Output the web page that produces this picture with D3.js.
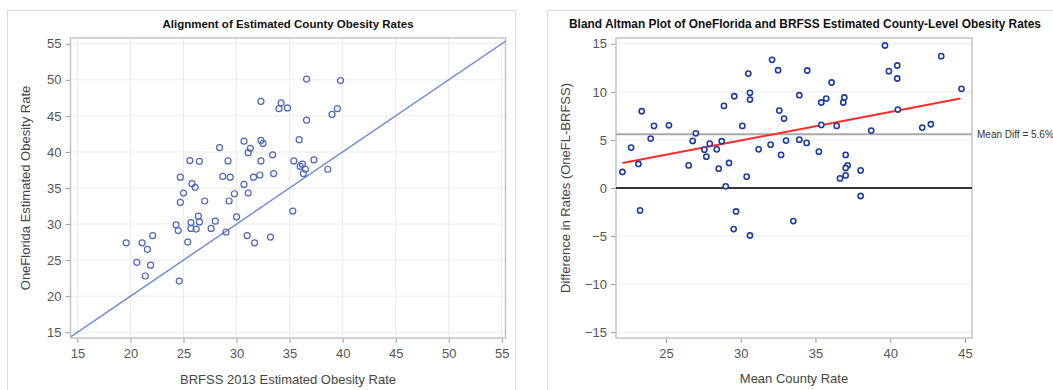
<!DOCTYPE html>
<html>
<head>
<meta charset="utf-8">
<script src="https://cdn.jsdelivr.net/npm/d3@7"></script>
<style>
  body { margin: 0; background: #fff; }
  svg { font-family: "Liberation Sans", Arial, sans-serif; }
</style>
</head>
<body>
<svg id="chart" width="1053" height="390"></svg>
<script>
// left panel: BRFSS 2013 vs OneFlorida estimated rates (one point per county)
const brfss = [25.0, 24.7, 27.0, 29.3, 29.8, 31.1, 35.3, 26.4, 24.3, 24.5, 25.7, 26.5, 25.7, 26.2, 28.0, 27.6,
  30.0, 29.0, 31.0, 31.7, 33.2, 25.4, 19.6, 21.1, 22.1, 21.6, 20.6, 21.9, 21.4, 24.6,
  36.6, 32.3, 34.2, 34.0, 34.8, 36.6, 35.9, 30.7, 32.3, 32.5, 28.4, 31.3, 31.1, 33.4, 25.6, 26.5,
  29.2, 32.3, 35.4, 36.2, 37.3, 36.0, 36.5, 36.3, 24.7, 28.7, 29.4, 31.6, 32.2, 33.5, 25.8, 26.1,
  30.7, 39.8, 39.5, 39.0, 38.6];
const oneFlorida = [34.3, 33.0, 33.2, 33.2, 34.2, 34.3, 31.8, 31.1, 29.9, 29.1, 30.2, 30.3, 29.4, 29.3, 30.4, 29.4,
  31.0, 28.9, 28.4, 27.4, 28.2, 27.5, 27.4, 27.4, 28.4, 26.5, 24.7, 24.3, 22.8, 22.1,
  50.1, 47.0, 46.8, 46.0, 46.1, 44.4, 41.7, 41.5, 41.6, 41.2, 40.6, 40.5, 39.9, 39.6, 38.8, 38.7,
  38.75, 38.75, 38.75, 38.3, 38.9, 38.0, 37.6, 37.0, 36.5, 36.6, 36.5, 36.5, 36.8, 37.0, 35.6, 35.1,
  35.5, 49.9, 46.0, 45.2, 37.6];

// right panel: mean county rate vs difference (OneFL - BRFSS)
const meanRate = [22.09, 22.67, 23.16, 23.38, 23.98, 24.2, 25.2, 26.52, 26.79, 27.0, 27.57, 27.7, 27.93, 28.4,
  28.53, 28.73, 28.88, 29.0, 29.22, 29.57, 30.11, 30.4, 30.51, 30.62, 30.62, 31.2, 32.0, 32.1, 32.5, 32.58,
  32.7, 32.9, 33.03, 33.92, 33.92,
  23.27, 29.69, 29.53, 30.62, 33.52,
  34.45, 39.65, 43.41, 39.91, 40.47, 40.47, 36.08, 35.39, 35.72, 36.93, 36.86, 44.77, 40.51, 35.39, 36.42,
  38.73, 42.14, 42.72, 34.41, 35.23, 37.02, 37.15, 37.02, 38.02, 36.64, 37.02, 38.02];
const diffRate = [1.67, 4.2, 2.5, 7.98, 5.14, 6.46, 6.52, 2.35, 4.9, 5.69, 3.99, 3.26, 4.61, 4.02,
  2.01, 4.86, 8.54, 0.17, 2.6, 9.54, 6.46, 1.18, 11.9, 9.9, 9.2, 4.02, 4.51, 13.33, 12.25, 8.05,
  3.44, 7.22, 4.93, 9.65, 5.03,
  -2.33, -2.44, -4.27, -4.94, -3.44,
  12.22, 14.82, 13.71, 12.15, 12.74, 11.39, 10.97, 8.89, 9.3, 9.41, 8.89, 10.31, 8.16, 6.56, 6.46,
  5.97, 6.28, 6.63, 4.69, 3.78, 3.44, 2.35, 2.08, 1.83, 1.0, 1.31, -0.83];

const regX = [22.1, 44.7];
const regY = [2.6, 9.3];
const meanDiff = 5.6;

const leftTicks = [15, 20, 25, 30, 35, 40, 45, 50, 55];
const rightXTicks = [25, 30, 35, 40, 45];
const rightYTicks = [-15, -10, -5, 0, 5, 10, 15];

const svg = d3.select('#chart');

// panel frames
svg.append('rect').attr('x', 7.5).attr('y', 10.5).attr('width', 508).attr('height', 400)
  .attr('fill', 'none').attr('stroke', '#dcdcdc');
svg.append('rect').attr('x', 547.5).attr('y', 10.5).attr('width', 520).attr('height', 400)
  .attr('fill', 'none').attr('stroke', '#dcdcdc');

const drawAxes = (g, x, y, xTicks, yTicks, vGrid) => {
  const [x0, x1] = x.range();
  const [y0, y1] = y.range();
  if (vGrid) {
    g.append('g').selectAll('line').data(xTicks).join('line')
      .attr('x1', d => x(d)).attr('x2', d => x(d)).attr('y1', y1).attr('y2', y0)
      .attr('stroke', '#ebebeb');
  }
  g.append('g').selectAll('line').data(yTicks).join('line')
    .attr('x1', x0).attr('x2', x1).attr('y1', d => y(d)).attr('y2', d => y(d))
    .attr('stroke', '#ebebeb');

  const xa = g.append('g').attr('transform', `translate(0,${y0})`)
    .call(d3.axisBottom(x).tickValues(xTicks).tickSize(5).tickPadding(6));
  const ya = g.append('g').attr('transform', `translate(${x0},0)`)
    .call(d3.axisLeft(y).tickValues(yTicks).tickSize(5).tickPadding(4));
  [xa, ya].forEach(a => {
    a.select('.domain').remove();
    a.selectAll('line').attr('stroke', '#999');
    a.selectAll('text').attr('fill', '#555').attr('font-size', 13)
      .attr('font-family', '"Liberation Sans", Arial, sans-serif');
  });
  g.append('rect').attr('x', x0).attr('y', y1).attr('width', x1 - x0).attr('height', y0 - y1)
    .attr('fill', 'none').attr('stroke', '#c4c4c4').attr('stroke-width', 1.5);
};

// ---- left: alignment scatter ----
const xL = d3.scaleLinear().domain([14.35, 55.35]).range([70.5, 505.5]);
const yL = d3.scaleLinear().domain([14.2, 55.8]).range([338, 38]);
const left = svg.append('g');
drawAxes(left, xL, yL, leftTicks, leftTicks, true);

left.append('clipPath').attr('id', 'clipL').append('rect')
  .attr('x', 70.5).attr('y', 38).attr('width', 435).attr('height', 300);
left.append('line').attr('clip-path', 'url(#clipL)')
  .attr('x1', xL(14.4)).attr('y1', yL(14.4)).attr('x2', xL(56)).attr('y2', yL(56))
  .attr('stroke', '#6e8fd2').attr('stroke-width', 1.5);

left.append('g').selectAll('circle').data(brfss).join('circle')
  .attr('cx', d => xL(d)).attr('cy', (d, i) => yL(oneFlorida[i])).attr('r', 3)
  .attr('fill', 'none').attr('stroke', '#4b66bb').attr('stroke-width', 1.2);

left.append('text').attr('x', 288).attr('y', 28).attr('text-anchor', 'middle')
  .attr('font-size', 11.5).attr('font-weight', 'bold').attr('fill', '#111')
  .text('Alignment of Estimated County Obesity Rates');
left.append('text').attr('x', 288).attr('y', 384).attr('text-anchor', 'middle')
  .attr('font-size', 13).attr('fill', '#444').text('BRFSS 2013 Estimated Obesity Rate');
left.append('text').attr('transform', 'translate(30,188) rotate(-90)').attr('text-anchor', 'middle')
  .attr('font-size', 13).attr('fill', '#444').text('OneFlorida Estimated Obesity Rate');

// ---- right: Bland Altman ----
const xR = d3.scaleLinear().domain([21.66, 45.47]).range([616, 972]);
const yR = d3.scaleLinear().domain([-15.6, 15.6]).range([338, 38]);
const right = svg.append('g');
drawAxes(right, xR, yR, rightXTicks, rightYTicks, false);

right.append('line').attr('x1', 616).attr('x2', 972).attr('y1', yR(meanDiff)).attr('y2', yR(meanDiff))
  .attr('stroke', '#a8a8a8').attr('stroke-width', 2);
right.append('line').attr('x1', 616).attr('x2', 972).attr('y1', yR(0)).attr('y2', yR(0))
  .attr('stroke', '#333').attr('stroke-width', 2);
right.append('line').attr('x1', xR(regX[0])).attr('y1', yR(regY[0]))
  .attr('x2', xR(regX[1])).attr('y2', yR(regY[1]))
  .attr('stroke', '#ff2a2a').attr('stroke-width', 2);

right.append('g').selectAll('circle').data(meanRate).join('circle')
  .attr('cx', d => xR(d)).attr('cy', (d, i) => yR(diffRate[i])).attr('r', 2.6)
  .attr('fill', '#fff').attr('stroke', '#1e3fa0').attr('stroke-width', 1.6);

right.append('text').attr('x', 977).attr('y', yR(meanDiff) + 4).attr('font-size', 10)
  .attr('fill', '#333').text(`Mean Diff = ${meanDiff}%`);
right.append('text').attr('x', 805).attr('y', 28).attr('text-anchor', 'middle')
  .attr('font-size', 11.9).attr('font-weight', 'bold').attr('fill', '#111')
  .text('Bland Altman Plot of OneFlorida and BRFSS Estimated County-Level Obesity Rates');
right.append('text').attr('x', 794).attr('y', 383).attr('text-anchor', 'middle')
  .attr('font-size', 13).attr('fill', '#444').text('Mean County Rate');
right.append('text').attr('transform', 'translate(570,188) rotate(-90)').attr('text-anchor', 'middle')
  .attr('font-size', 13).attr('fill', '#444').text('Difference in Rates (OneFL-BRFSS)');
</script>
</body>
</html>
